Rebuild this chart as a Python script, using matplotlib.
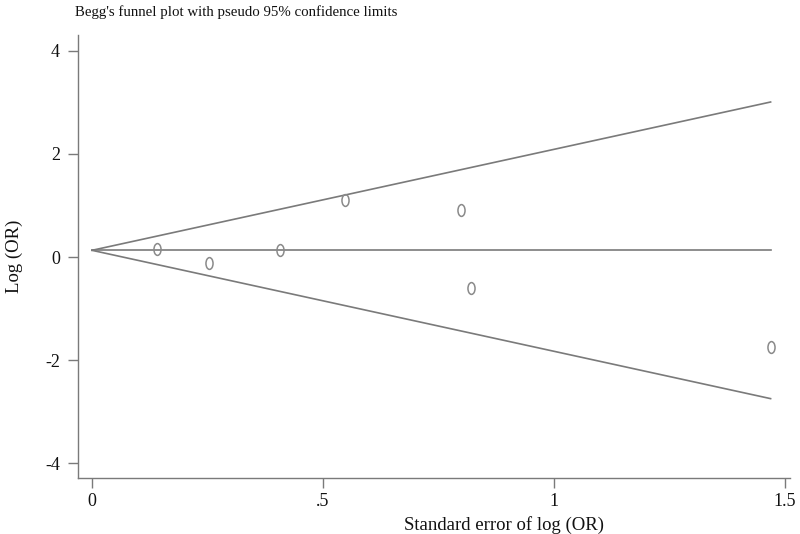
import numpy as np
import matplotlib
matplotlib.use("Agg")
import matplotlib.pyplot as plt
from matplotlib.markers import MarkerStyle
from matplotlib.transforms import Affine2D

# Data
se_logor = [0.140, 0.253, 0.408, 0.548, 0.798, 0.820, 1.469]
logor = [0.155, -0.11, 0.136, 1.107, 0.913, -0.608, -1.742]
pooled = 0.13
x_ticks = [0, 0.5, 1, 1.5]
x_ticklabels = ["0", ".5", "1", "1.5"]
y_ticks = [-4, -2, 0, 2, 4]
y_ticklabels = ["-4", "-2", "0", "2", "4"]

plt.rcParams['font.family'] = ['Liberation Serif', 'DejaVu Serif']

fig = plt.figure(figsize=(8, 5.34), dpi=100)
ax = fig.add_axes([78/800, (534-478)/534, 712/800, (478-35)/534])

gray = '#7a7a7a'
smax = max(se_logor)
sx = np.array([0, smax])
ax.plot(sx, [pooled, pooled], color=gray, lw=1.2)
ax.plot(sx, pooled + 1.96*sx, color=gray, lw=1.2)
ax.plot(sx, pooled - 1.96*sx, color=gray, lw=1.2)

mk = MarkerStyle('o', transform=Affine2D().scale(0.6, 1.0))
ax.plot(se_logor, logor, linestyle='none', marker=mk, markersize=8.5,
        markerfacecolor='none', markeredgecolor='#8a8a8a', markeredgewidth=1.1)

ax.set_xlim(-0.0303, 1.511)
ax.set_ylim(-4.29, 4.31)
ax.set_xticks(x_ticks)
ax.set_xticklabels(x_ticklabels)
ax.set_yticks(y_ticks)
ax.set_yticklabels(y_ticklabels)

for s in ['top', 'right']:
    ax.spines[s].set_visible(False)
for s in ['left', 'bottom']:
    ax.spines[s].set_color(gray)
    ax.spines[s].set_linewidth(1.0)
ax.tick_params(axis='both', colors=gray, length=7, width=1.0, labelsize=13,
               labelcolor='#111111')
ax.tick_params(axis='y', pad=6)
ax.tick_params(axis='x', pad=4)

ax.set_xlabel("Standard error of log (OR)", fontsize=13.5, color='#111111')
ax.xaxis.set_label_coords(0.598, -0.085)
ax.set_ylabel("Log (OR)", fontsize=13.5, color='#111111')
ax.yaxis.set_label_coords(-0.077, 0.5)

fig.text(75/800, 1 - 12/534, "Begg's funnel plot with pseudo 95% confidence limits",
         fontsize=10.7, ha='left', va='center', color='#111111')

fig.savefig("out.png", dpi=100, facecolor='white')
